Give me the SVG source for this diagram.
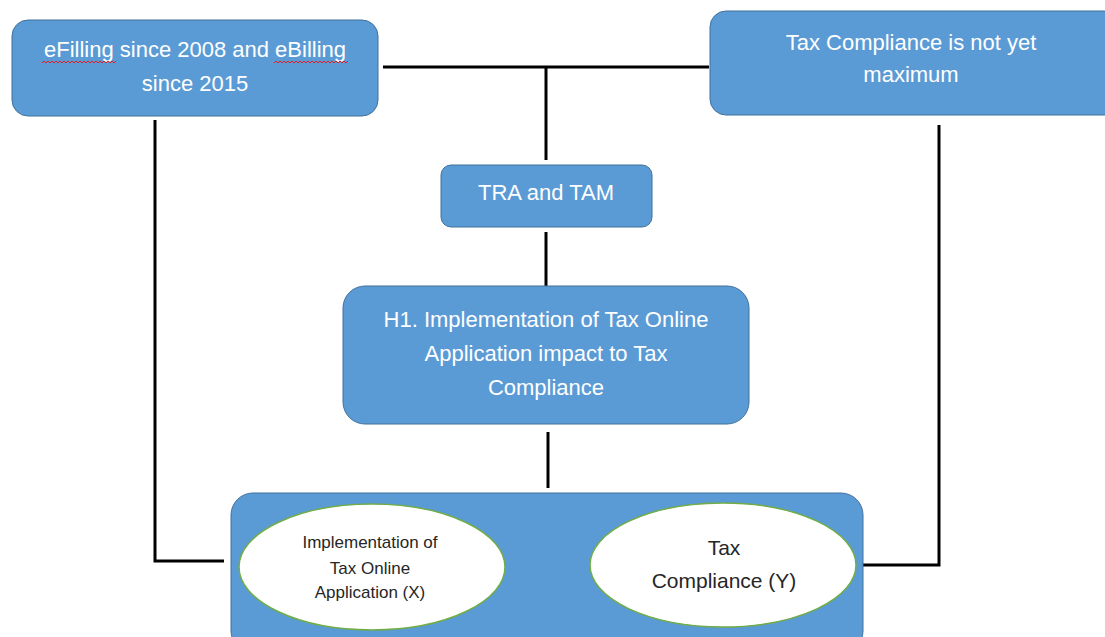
<svg xmlns="http://www.w3.org/2000/svg" width="1105" height="637" viewBox="0 0 1105 637">
<style>
.box{fill:#5B9BD5;stroke:#41719C;stroke-width:1}
.ell{fill:#FFFFFF;stroke:#70AD47;stroke-width:1.5}
.wt{font-family:"Liberation Sans",Arial,sans-serif;font-size:22px;fill:#FFFFFF;text-anchor:middle}
.dk{font-family:"Liberation Sans",Arial,sans-serif;fill:#262626;text-anchor:middle}
.ln{stroke:#000000;stroke-width:3;fill:none}
.sq{stroke:#E02020;stroke-width:1;fill:none}
</style>
<rect width="1105" height="637" fill="#FFFFFF"/>
<g id="connectors">
<path class="ln" d="M383 67 H709"/>
<path class="ln" d="M546 67 V160"/>
<path class="ln" d="M546 232 V286"/>
<path class="ln" d="M548 432 V488"/>
<path class="ln" d="M155 120 V561 H224"/>
<path class="ln" d="M939 125 V565 H863"/>
<path class="ln" d="M506 568 H584"/>
</g>
<g id="node-efilling">
<rect class="box" x="12" y="20" width="366" height="96" rx="16"/>
<text class="wt" x="195" y="57">eFilling since 2008 and eBilling</text>
<text class="wt" x="195" y="91">since 2015</text>
<path class="sq" d="M42 63 l2 -2 l2 2 l2 -2 l2 2 l2 -2 l2 2 l2 -2 l2 2 l2 -2 l2 2 l2 -2 l2 2 l2 -2 l2 2 l2 -2 l2 2 l2 -2 l2 2 l2 -2 l2 2 l2 -2 l2 2 l2 -2 l2 2 l2 -2 l2 2 l2 -2 l2 2 l2 -2 l2 2 l2 -2 l2 2 l2 -2 l2 2 l2 -2 l2 2 l2 -2"/>
<path class="sq" d="M274 63 l2 -2 l2 2 l2 -2 l2 2 l2 -2 l2 2 l2 -2 l2 2 l2 -2 l2 2 l2 -2 l2 2 l2 -2 l2 2 l2 -2 l2 2 l2 -2 l2 2 l2 -2 l2 2 l2 -2 l2 2 l2 -2 l2 2 l2 -2 l2 2 l2 -2 l2 2 l2 -2 l2 2 l2 -2 l2 2 l2 -2 l2 2 l2 -2 l2 2 l2 -2"/>
</g>
<g id="node-maximum">
<rect class="box" x="710" y="11" width="410" height="104" rx="16"/>
<text class="wt" x="911" y="50">Tax Compliance is not yet</text>
<text class="wt" x="911" y="82">maximum</text>
</g>
<g id="node-tra">
<rect class="box" x="441" y="165" width="211" height="62" rx="10"/>
<text class="wt" x="546" y="200">TRA and TAM</text>
</g>
<g id="node-h1">
<rect class="box" x="343" y="286" width="406" height="138" rx="22"/>
<text class="wt" x="546" y="327">H1. Implementation of Tax Online</text>
<text class="wt" x="546" y="361">Application impact to Tax</text>
<text class="wt" x="546" y="395">Compliance</text>
</g>
<g id="node-bottom">
<rect class="box" x="231" y="493" width="632" height="160" rx="22"/>
</g>
<g id="node-x">
<ellipse class="ell" cx="372" cy="567" rx="133" ry="63"/>
<text class="dk" x="370" y="548" font-size="17">Implementation of</text>
<text class="dk" x="370" y="574" font-size="17">Tax Online</text>
<text class="dk" x="370" y="598" font-size="17">Application (X)</text>
</g>
<g id="node-y">
<ellipse class="ell" cx="723" cy="565" rx="133" ry="62"/>
<text class="dk" x="724" y="555" font-size="21">Tax</text>
<text class="dk" x="724" y="588" font-size="21">Compliance (Y)</text>
</g>
</svg>
